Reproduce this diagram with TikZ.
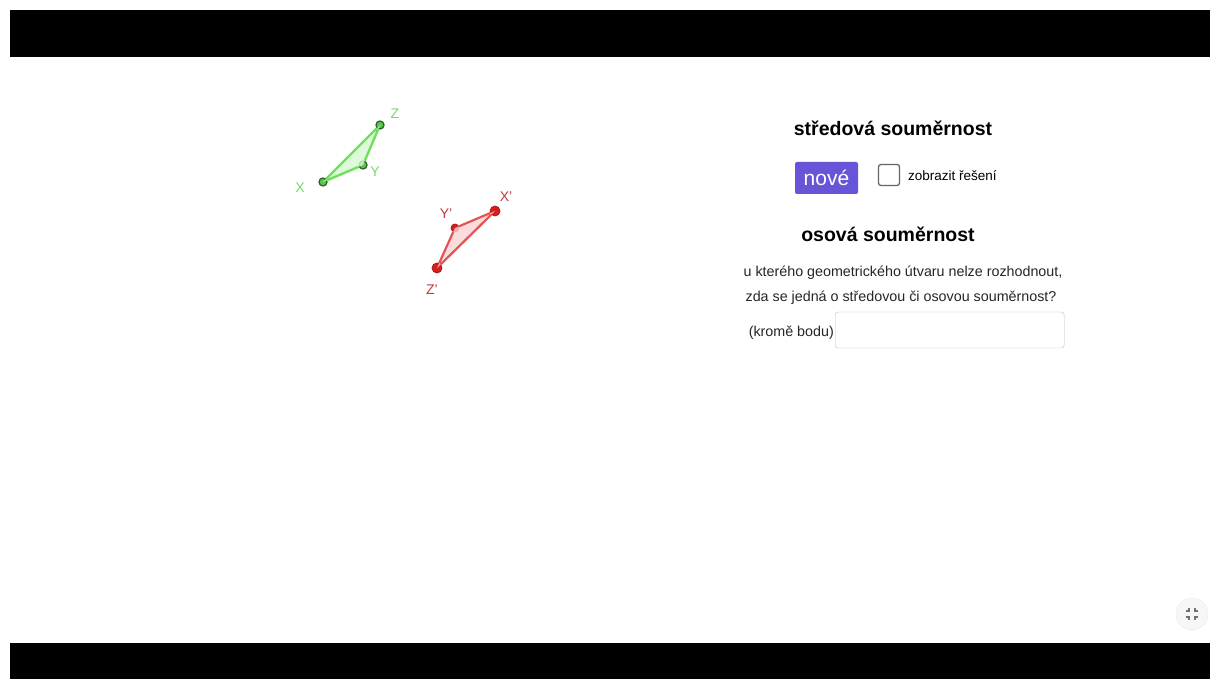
\documentclass[tikz,border=0pt]{standalone}
\usepackage{fontspec}
\setmainfont{Liberation Sans}
\definecolor{gline}{RGB}{110,225,90}
\definecolor{gfill}{RGB}{215,248,210}
\definecolor{gdot}{RGB}{90,200,80}
\definecolor{gtext}{RGB}{120,215,110}
\definecolor{rline}{RGB}{225,85,85}
\definecolor{rfill}{RGB}{250,210,210}
\definecolor{rdot}{RGB}{215,30,30}
\definecolor{rtext}{RGB}{190,60,60}
\definecolor{btnblue}{RGB}{102,86,215}

\begin{document}
\begin{tikzpicture}[x=1pt,y=-1pt,
  gpt/.style={circle,draw=gdot!50!black,fill=gdot,line width=1.3pt,inner sep=0pt,minimum size=8pt},
  rpt/.style={circle,draw=rdot!80!black,fill=rdot,line width=0.8pt,inner sep=0pt,minimum size=10pt},
  glab/.style={text=gtext,font=\fontsize{14}{16}\selectfont},
  rlab/.style={text=rtext,font=\fontsize{14}{16}\selectfont},
  head/.style={font=\bfseries\fontsize{19.5}{22}\selectfont},
  small/.style={font=\fontsize{14.3}{16}\selectfont,text=black!85}]
\useasboundingbox (0,0) rectangle (1210,679);
\fill[white] (0,0) rectangle (1210,679);
% black bars
\fill[black] (10,10) rectangle (1210,57);
\fill[black] (10,643) rectangle (1210,679);

% green triangle
\node[gpt] (X) at (323,182) {};
\node[gpt] (Y) at (363,165) {};
\node[gpt] (Z) at (380,125) {};
\fill[gfill,opacity=0.8] (X.center) -- (Y.center) -- (Z.center) -- cycle;
\draw[gline,line width=2.4pt] (X) -- (Y) (Y) -- (Z) (Z) -- (X);
\node[glab] (labX) at (300,188) {X};
\node[glab] (labY) at (375,172) {Y};
\node[glab] (labZ) at (395,114) {Z};

% red triangle
\node[rpt] (X1) at (495,211) {};
\node[rpt,minimum size=8pt] (Y1) at (455,228) {};
\node[rpt] (Z1) at (437,268) {};
\fill[rfill,opacity=0.8] (X1.center) -- (Y1.center) -- (Z1.center) -- cycle;
\draw[rline,line width=2.2pt] (X1) -- (Y1) (Y1) -- (Z1) (Z1) -- (X1);
\node[rlab] (labX1) at (506,197) {X'};
\node[rlab] (labY1) at (446,214) {Y'};
\node[rlab] (labZ1) at (432,290) {Z'};

% right panel
\node[head] (title1) at (893,128) {středová souměrnost};
\node[fill=btnblue,text=white,rounded corners=2pt,minimum width=63pt,minimum height=32pt,
  inner sep=0pt,font=\fontsize{21}{23}\selectfont] (nove) at (826.5,178) {nové};
\node[draw=black!60,line width=1.3pt,rounded corners=2.5pt,minimum size=21pt,inner sep=0pt] (chk) at (889,175) {};
\node[anchor=west,font=\fontsize{13.5}{15}\selectfont,inner sep=0pt] (reseni) at (908,176) {zobrazit řešení};
\node[head] (title2) at (888,234) {osová souměrnost};
\node[small] (line1) at (903,273) {u kterého geometrického útvaru nelze rozhodnout,};
\node[small] (line2) at (901,298) {zda se jedná o středovou či osovou souměrnost?};
\node[small,anchor=east,inner sep=0pt] (krome) at (834,333) {(kromě bodu)};
\node[draw=black!25,rounded corners=3pt,minimum width=229pt,minimum height=36pt,
  inner sep=0pt,anchor=west] (vstup) at (835,330) {};

% corner icon
\node[circle,fill=black!3,draw=black!8,minimum size=32pt] (ikona) at (1192,614) {};
\begin{scope}[black!55,line width=1.3pt]
  \draw (1186,611) -- (1189,611) -- (1189,608);
  \draw (1198,611) -- (1195,611) -- (1195,608);
  \draw (1186,617) -- (1189,617) -- (1189,620);
  \draw (1198,617) -- (1195,617) -- (1195,620);
\end{scope}
\end{tikzpicture}
\end{document}
